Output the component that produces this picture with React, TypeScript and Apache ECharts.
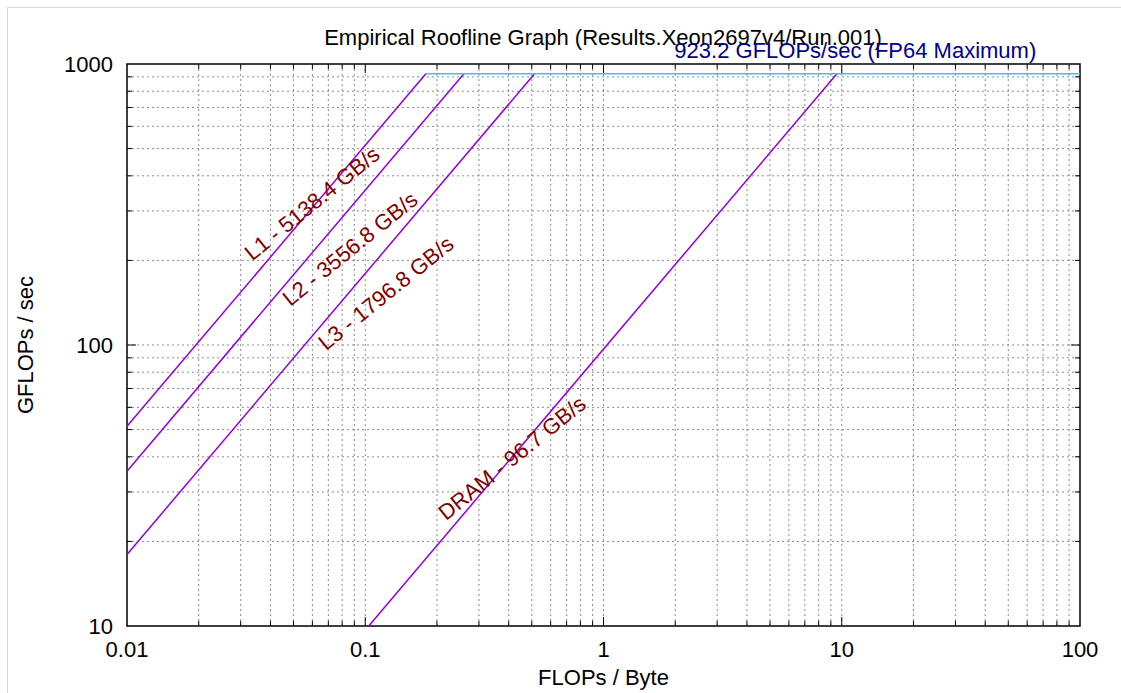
import React, { useEffect, useRef } from "react";
import * as echarts from "echarts";

// ---- data ----
const chartTitle = "Empirical Roofline Graph (Results.Xeon2697v4/Run.001)";
const xAxisName = "FLOPs / Byte";
const yAxisName = "GFLOPs / sec";
const levels = ["L1", "L2", "L3", "DRAM"];
const bandwidthsGBs = [5138.4, 3556.8, 1796.8, 96.7];
const peakGFLOPs = 923.2;
const peakLabel = "923.2 GFLOPs/sec (FP64 Maximum)";
const xRange = [0.01, 100];
const yRange = [10, 1000];
const xMajorTicks = [0.01, 0.1, 1, 10, 100];
const yMajorTicks = [10, 100, 1000];
const minorMultipliers = [2, 3, 4, 5, 6, 7, 8, 9];
// label anchor (center) positions in data coordinates
const labelAnchorX = [0.0598, 0.0863, 0.1222, 0.413];
const labelAnchorY = [319, 220, 153, 39.6];
const peakLabelAnchor = [11.4, 1119];

const FONT = "'Liberation Sans', Arial, Helvetica, sans-serif";

function minorOf(majors: number[]): number[] {
  const out: number[] = [];
  for (let i = 0; i < majors.length - 1; i++) {
    for (const m of minorMultipliers) out.push(+(majors[i] * m).toPrecision(6));
  }
  return out;
}

function fmt(v: number) {
  return String(+Number(v).toPrecision(6));
}

export default function App() {
  const ref = useRef<HTMLDivElement>(null);
  useEffect(() => {
    if (!ref.current) return;
    const chart = echarts.init(ref.current, undefined, { renderer: "svg" });

    const xMinor = minorOf(xMajorTicks);
    const yMinor = minorOf(yMajorTicks);
    const xGridData = [
      ...xMajorTicks.map((v) => [v, yRange[0], 1]),
      ...xMinor.map((v) => [v, yRange[0], 0]),
    ];
    const yGridData = [
      ...yMajorTicks.map((v) => [xRange[0], v, 1]),
      ...yMinor.map((v) => [xRange[0], v, 0]),
    ];

    const gridColor = "#8c8c8c";
    const makeGridRender = (vertical: boolean) => (params: any, api: any) => {
      const v = api.value(vertical ? 0 : 1);
      const major = api.value(2) === 1;
      const len = major ? 9 : 5;
      const a = vertical ? api.coord([v, yRange[0]]) : api.coord([xRange[0], v]);
      const b = vertical ? api.coord([v, yRange[1]]) : api.coord([xRange[1], v]);
      const isEdge = vertical
        ? v <= xRange[0] || v >= xRange[1]
        : v <= yRange[0] || v >= yRange[1];
      const children: any[] = [];
      if (!isEdge) {
        children.push({
          type: "line",
          shape: { x1: a[0], y1: a[1], x2: b[0], y2: b[1] },
          style: { stroke: gridColor, lineWidth: 1, lineDash: [2, 3] },
        });
        if (vertical) {
          children.push({
            type: "line",
            shape: { x1: a[0], y1: a[1], x2: a[0], y2: a[1] - len },
            style: { stroke: "#000", lineWidth: 1 },
          });
          children.push({
            type: "line",
            shape: { x1: b[0], y1: b[1], x2: b[0], y2: b[1] + len },
            style: { stroke: "#000", lineWidth: 1 },
          });
        } else {
          children.push({
            type: "line",
            shape: { x1: a[0], y1: a[1], x2: a[0] + len, y2: a[1] },
            style: { stroke: "#000", lineWidth: 1 },
          });
          children.push({
            type: "line",
            shape: { x1: b[0], y1: b[1], x2: b[0] - len, y2: b[1] },
            style: { stroke: "#000", lineWidth: 1 },
          });
        }
      }
      return { type: "group", children };
    };

    const roofSeries = levels.map((name, i) => {
      const bw = bandwidthsGBs[i];
      const xStart = Math.max(xRange[0], yRange[0] / bw);
      const ridge = peakGFLOPs / bw;
      return {
        type: "line",
        name,
        data: [
          [xStart, bw * xStart],
          [ridge, peakGFLOPs],
        ],
        symbol: "none",
        lineStyle: { color: "#9400d3", width: 1.5 },
        silent: true,
        z: 5,
      };
    });

    const minRidge = peakGFLOPs / Math.max(...bandwidthsGBs);
    const peakSeries = {
      type: "line",
      name: "peak",
      data: [
        [minRidge, peakGFLOPs],
        [xRange[1], peakGFLOPs],
      ],
      symbol: "none",
      lineStyle: { color: "#56b4e9", width: 1.5 },
      silent: true,
      z: 5,
    };

    const labelCommon = {
      show: true,
      position: "inside",
      fontSize: 22,
      fontFamily: FONT,
      textBorderWidth: 0,
      textBorderColor: "transparent",
      opacity: 1,
    };

    const labelSeries = {
      type: "scatter",
      symbolSize: 0,
      silent: true,
      clip: false,
      z: 6,
      itemStyle: { color: "transparent", opacity: 1 },
      data: levels
        .map((name, i) => ({
          value: [labelAnchorX[i], labelAnchorY[i]],
          label: {
            ...labelCommon,
            formatter: `${name} - ${bandwidthsGBs[i]} GB/s`,
            rotate: 39,
            color: "#800000",
          },
        }))
        .concat([
          {
            value: peakLabelAnchor,
            label: {
              ...labelCommon,
              formatter: peakLabel,
              rotate: 0,
              color: "#00008b",
            },
          },
        ]),
    };

    const axisLabel = { fontSize: 22, color: "#000", fontFamily: FONT, formatter: fmt };

    chart.setOption({
      animation: false,
      backgroundColor: "#fff",
      grid: {
        left: 127,
        top: 64,
        width: 953,
        height: 572,
        show: true,
        borderColor: "#000",
        borderWidth: 1.5,
        backgroundColor: "transparent",
        containLabel: false,
      },
      xAxis: {
        type: "log",
        logBase: 10,
        min: xRange[0],
        max: xRange[1],
        name: xAxisName,
        nameLocation: "middle",
        nameGap: 40,
        nameTextStyle: { fontSize: 22, color: "#000", fontFamily: FONT },
        axisLine: { show: false },
        axisTick: { show: false },
        splitLine: { show: false },
        minorTick: { show: false },
        axisLabel: { ...axisLabel, margin: 12 },
      },
      yAxis: {
        type: "log",
        logBase: 10,
        min: yRange[0],
        max: yRange[1],
        name: yAxisName,
        nameLocation: "middle",
        nameRotate: 90,
        nameGap: 91,
        nameTextStyle: { fontSize: 22, color: "#000", fontFamily: FONT },
        axisLine: { show: false },
        axisTick: { show: false },
        splitLine: { show: false },
        minorTick: { show: false },
        axisLabel: { ...axisLabel, margin: 14 },
      },
      graphic: [
        {
          type: "line",
          shape: { x1: 7.5, y1: 7.5, x2: 1121, y2: 7.5 },
          style: { stroke: "#d9d9d9", lineWidth: 1 },
          silent: true,
        },
        {
          type: "line",
          shape: { x1: 7.5, y1: 7.5, x2: 7.5, y2: 693 },
          style: { stroke: "#d9d9d9", lineWidth: 1 },
          silent: true,
        },
        {
          type: "text",
          x: 603,
          y: 37,
          style: {
            text: chartTitle,
            fontSize: 22,
            fontFamily: FONT,
            fill: "#000",
            align: "center",
            verticalAlign: "middle",
          },
          silent: true,
        },
      ],
      series: [
        {
          type: "custom",
          name: "xgrid",
          data: xGridData,
          encode: { x: 0, y: 1 },
          renderItem: makeGridRender(true),
          silent: true,
          clip: false,
          z: 1,
        },
        {
          type: "custom",
          name: "ygrid",
          data: yGridData,
          encode: { x: 0, y: 1 },
          renderItem: makeGridRender(false),
          silent: true,
          clip: false,
          z: 1,
        },
        ...roofSeries,
        peakSeries,
        labelSeries,
      ],
    } as any);

    return () => chart.dispose();
  }, []);

  return (
    <div
      ref={ref}
      style={{ position: "fixed", left: 0, top: 0, width: 1121, height: 693 }}
    />
  );
}
